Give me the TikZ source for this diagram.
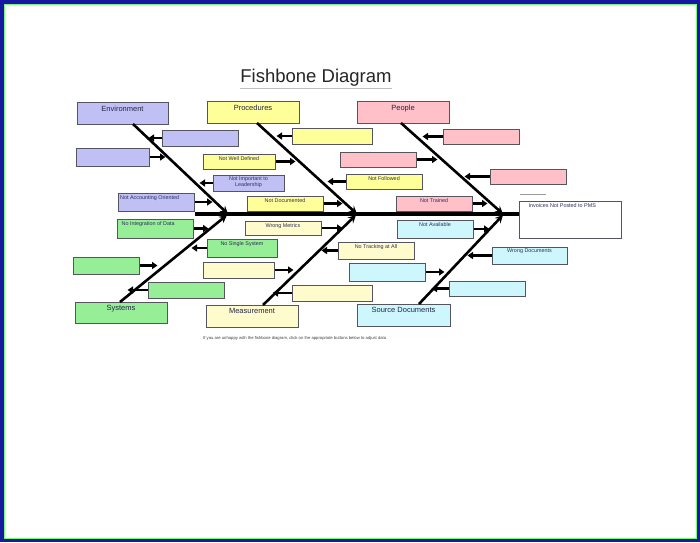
\documentclass[tikz,border=0pt]{standalone}
\usepackage{fontspec}
\setmainfont{Liberation Sans}
\usetikzlibrary{arrows.meta,fit}
\definecolor{frameblue}{RGB}{24,24,165}
\definecolor{envc}{RGB}{192,192,245}
\definecolor{proc}{RGB}{255,255,153}
\definecolor{peoc}{RGB}{255,192,200}
\definecolor{sysc}{RGB}{150,238,150}
\definecolor{meac}{RGB}{255,251,204}
\definecolor{docc}{RGB}{205,247,252}
\definecolor{edgec}{RGB}{85,85,95}
\definecolor{txtc}{RGB}{45,45,90}
\newcommand\mybox[6]{\node[boxst, fill=#6, fit={(#2,#3) (#4,#5)}] (#1) {};}
\tikzset{
  boxst/.style={draw=edgec, line width=1pt, inner sep=0pt},
  catlbl/.style={font=\fontsize{7.5}{8}\selectfont, text=txtc!80!black, inner sep=0pt},
  sublbl/.style={font=\fontsize{5.4}{6}\selectfont, text=txtc, inner sep=0pt, align=center},
  bone/.style={line width=2.6pt, -{Stealth[length=8pt,width=8pt,inset=3pt]}},
  sub/.style={line width=2.5pt, -{Triangle[length=5.5pt,width=7pt]}},
  spine/.style={line width=3.2pt}
}
\begin{document}
\begin{tikzpicture}[x=1pt,y=-1pt]
\useasboundingbox (0,0) rectangle (700,542);
\fill[white] (0,0) rectangle (700,542);
\draw[frameblue, line width=3.5pt] (1.75,1.75) rectangle (698.25,540.25);
\draw[green!55!white, line width=0.6pt] (3.8,3.8) rectangle (696.2,538.2);

% title
\node[font=\fontsize{18.5}{20}\selectfont, text=black!85, inner sep=0pt] (title) at (316,78) {Fishbone Diagram};
\coordinate (ul1) at (240,88);
\coordinate (ul2) at (392,88);
\draw[black!25, line width=0.8pt] (ul1) -- (ul2);

% category boxes
\mybox{env}{77}{102}{168}{124}{envc}
\mybox{pro}{207}{101}{299}{123}{proc}
\mybox{peo}{357}{101}{449}{123}{peoc}
\mybox{sys}{75}{302}{167}{323}{sysc}
\mybox{mea}{206}{305}{298}{327}{meac}
\mybox{doc}{357}{304}{450}{326}{docc}
\node[catlbl, anchor=north] at ([yshift=-4.5pt]env.north) {Environment};
\node[catlbl, anchor=north] at ([yshift=-4pt]pro.north) {Procedures};
\node[catlbl, anchor=north] at ([yshift=-4pt]peo.north) {People};
\node[catlbl, anchor=north] at ([yshift=-4pt]sys.north) {Systems};
\node[catlbl, anchor=north] at ([yshift=-4pt]mea.north) {Measurement};
\node[catlbl, anchor=north] at ([yshift=-3.5pt]doc.north) {Source Documents};

% effect box
\mybox{eff}{519}{201}{621}{238}{white}
\node[sublbl, anchor=north west] at ([xshift=10pt,yshift=-3pt]eff.north west) {Invoices Not Posted to PMS};
\coordinate (eu1) at (520,194);
\coordinate (eu2) at (546,194);
\draw[black!40, line width=0.8pt] (eu1) -- (eu2);

% spine
\coordinate (sp0) at (195,214);
\draw[spine] (sp0) -- (eff.west |- sp0);

% bones
\coordinate (bEa) at (133,124); \coordinate (bEb) at (228,214);
\coordinate (bPa) at (257,123); \coordinate (bPb) at (357,214);
\coordinate (bQa) at (401,123); \coordinate (bQb) at (503,214);
\coordinate (bSa) at (120,302); \coordinate (bSb) at (227,215);
\coordinate (bMa) at (263,305); \coordinate (bMb) at (356,215);
\coordinate (bDa) at (419,304); \coordinate (bDb) at (503,215);
\draw[bone] (bEa) -- (bEb);
\draw[bone] (bPa) -- (bPb);
\draw[bone] (bQa) -- (bQb);
\draw[bone] (bSa) -- (bSb);
\draw[bone] (bMa) -- (bMb);
\draw[bone] (bDa) -- (bDb);

% environment causes
\mybox{e1}{162}{130}{238}{146}{envc}
\mybox{e2}{76}{148}{149}{166}{envc}
\mybox{e3}{213}{175}{284}{191}{envc}
\mybox{e4}{118}{193}{194}{211}{envc}
\node[sublbl, anchor=north] at ([yshift=-2.5pt]e3.north) {Not Important to\\Leadership};
\node[sublbl, anchor=north west] at ([xshift=2.5pt,yshift=-2.5pt]e4.north west) {Not Accounting  Oriented};
\draw[sub] (e1.west) -- ++(-13,0);
\draw[sub] (e2.east) -- ++(16,0);
\draw[sub] (e3.west) -- ++(-13,0);
\draw[sub] (e4.east) -- ++(18,0);

% procedures causes
\mybox{p1}{292}{128}{372}{144}{proc}
\mybox{p2}{203}{154}{275}{169}{proc}
\mybox{p3}{346}{174}{422}{189}{proc}
\mybox{p4}{247}{196}{323}{211}{proc}
\node[sublbl, anchor=north] at ([yshift=-2.5pt]p2.north) {Not Well Defined};
\node[sublbl, anchor=north] at ([yshift=-2.5pt]p3.north) {Not Followed};
\node[sublbl, anchor=north] at ([yshift=-2.5pt]p4.north) {Not Documented};
\draw[sub] (p1.west) -- ++(-15,0);
\draw[sub] (p2.east) -- ++(20,0);
\draw[sub] (p3.west) -- ++(-18,0);
\draw[sub] (p4.east) -- ++(19,0);

% people causes
\mybox{q1}{443}{129}{519}{144}{peoc}
\mybox{q2}{340}{152}{416}{167}{peoc}
\mybox{q3}{490}{169}{566}{184}{peoc}
\mybox{q4}{396}{196}{472}{211}{peoc}
\node[sublbl, anchor=north] at ([yshift=-2.5pt]q4.north) {Not Trained};
\draw[sub] (q1.west) -- ++(-20,0);
\draw[sub] (q2.east) -- ++(21,0);
\draw[sub] (q3.west) -- ++(-25,0);
\draw[sub] (q4.east) -- ++(15,0);

% systems causes
\mybox{s1}{117}{219}{193}{238}{sysc}
\mybox{s2}{207}{239}{277}{257}{sysc}
\mybox{s3}{73}{257}{139}{274}{sysc}
\mybox{s4}{148}{282}{224}{298}{sysc}
\node[sublbl, anchor=north west] at ([xshift=5pt,yshift=-2.5pt]s1.north west) {No Integration of Data};
\node[sublbl, anchor=north] at ([yshift=-2.5pt]s2.north) {No Single System};
\draw[sub] (s1.east) -- ++(15,0);
\draw[sub] (s2.west) -- ++(-15,0);
\draw[sub] (s3.east) -- ++(18,0);
\draw[sub] (s4.west) -- ++(-20,0);

% measurement causes
\mybox{m1}{245}{221}{321}{235}{meac}
\mybox{m2}{338}{242}{414}{259}{meac}
\mybox{m3}{203}{262}{274}{278}{meac}
\mybox{m4}{292}{285}{372}{301}{meac}
\node[sublbl, anchor=north] at ([yshift=-2.5pt]m1.north) {Wrong Metrics};
\node[sublbl, anchor=north] at ([yshift=-2.5pt]m2.north) {No Tracking at All};
\draw[sub] (m1.east) -- ++(21,0);
\draw[sub] (m2.west) -- ++(-16,0);
\draw[sub] (m3.east) -- ++(19,0);
\draw[sub] (m4.west) -- ++(-19,0);

% source document causes
\mybox{d1}{397}{220}{473}{238}{docc}
\mybox{d2}{492}{247}{567}{264}{docc}
\mybox{d3}{349}{263}{425}{281}{docc}
\mybox{d4}{449}{281}{525}{296}{docc}
\node[sublbl, anchor=north] at ([yshift=-2.5pt]d1.north) {Not Available};
\node[sublbl, anchor=north] at ([yshift=-2.5pt]d2.north) {Wrong Documents};
\draw[sub] (d1.east) -- ++(16,0);
\draw[sub] (d2.west) -- ++(-24,0);
\draw[sub] (d3.east) -- ++(19,0);
\draw[sub] (d4.west) -- ++(-17,0);

% footnote
\node[font=\fontsize{4.2}{5}\selectfont, text=black!75, anchor=west, inner sep=0pt] (note) at (203,338) {If you are unhappy with the fishbone diagram, click on the appropriate buttons below to adjust data};
\end{tikzpicture}
\end{document}
